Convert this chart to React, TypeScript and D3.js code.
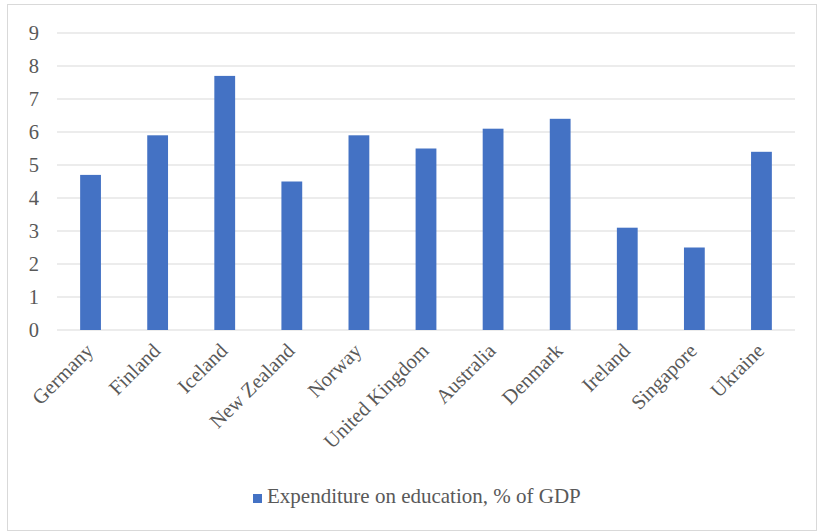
import React from "react";
import * as d3 from "d3";

const categories = ["Germany", "Finland", "Iceland", "New Zealand", "Norway", "United Kingdom", "Australia", "Denmark", "Ireland", "Singapore", "Ukraine"];
const values = [4.7, 5.9, 7.7, 4.5, 5.9, 5.5, 6.1, 6.4, 3.1, 2.5, 5.4];
const yTicks = [0, 1, 2, 3, 4, 5, 6, 7, 8, 9];
const seriesName = "Expenditure on education, % of GDP";

export default function App() {
  const W = 819, H = 531;
  const left = 57, right = 795, top = 33, bottom = 330;
  const x = d3.scaleBand<string>().domain(categories).range([left, right]).paddingInner(0.69).paddingOuter(0.345);
  const y = d3.scaleLinear().domain([0, 9]).range([bottom, top]);
  const font = "'Liberation Serif', 'Times New Roman', serif";
  const fs = 20.5;
  return (
    <svg width={W} height={H} style={{ position: "absolute", left: 0, top: 0 }}>
      <rect x={0} y={0} width={W} height={H} fill="#fff" />
      <rect x={7.5} y={4.5} width={809} height={526} fill="#fff" stroke="#d9d9d9" strokeWidth={1} />
      {yTicks.map((t) => (
        <g key={t}>
          <line x1={left} x2={right} y1={y(t)} y2={y(t)} stroke="#d9d9d9" strokeWidth={1.2} />
          <text x={39} y={y(t)} dy="0.34em" textAnchor="end" fontFamily={font} fontSize={fs} fill="#595959">{t}</text>
        </g>
      ))}
      {categories.map((c, i) => (
        <rect key={c} x={x(c)} y={y(values[i])} width={x.bandwidth()} height={y(0) - y(values[i])} fill="#4472C4" />
      ))}
      {categories.map((c) => {
        const cx = (x(c) as number) + x.bandwidth() / 2 - 1;
        const cy = 347;
        return (
          <text key={c} transform={`translate(${cx},${cy}) rotate(-45)`} textAnchor="end" dy="0.34em" fontFamily={font} fontSize={fs} fill="#595959">{c}</text>
        );
      })}
      <rect x={253} y={494} width={9} height={9} fill="#4472C4" />
      <text x={267} y={503} fontFamily={font} fontSize={21} fill="#595959">{seriesName}</text>
    </svg>
  );
}
